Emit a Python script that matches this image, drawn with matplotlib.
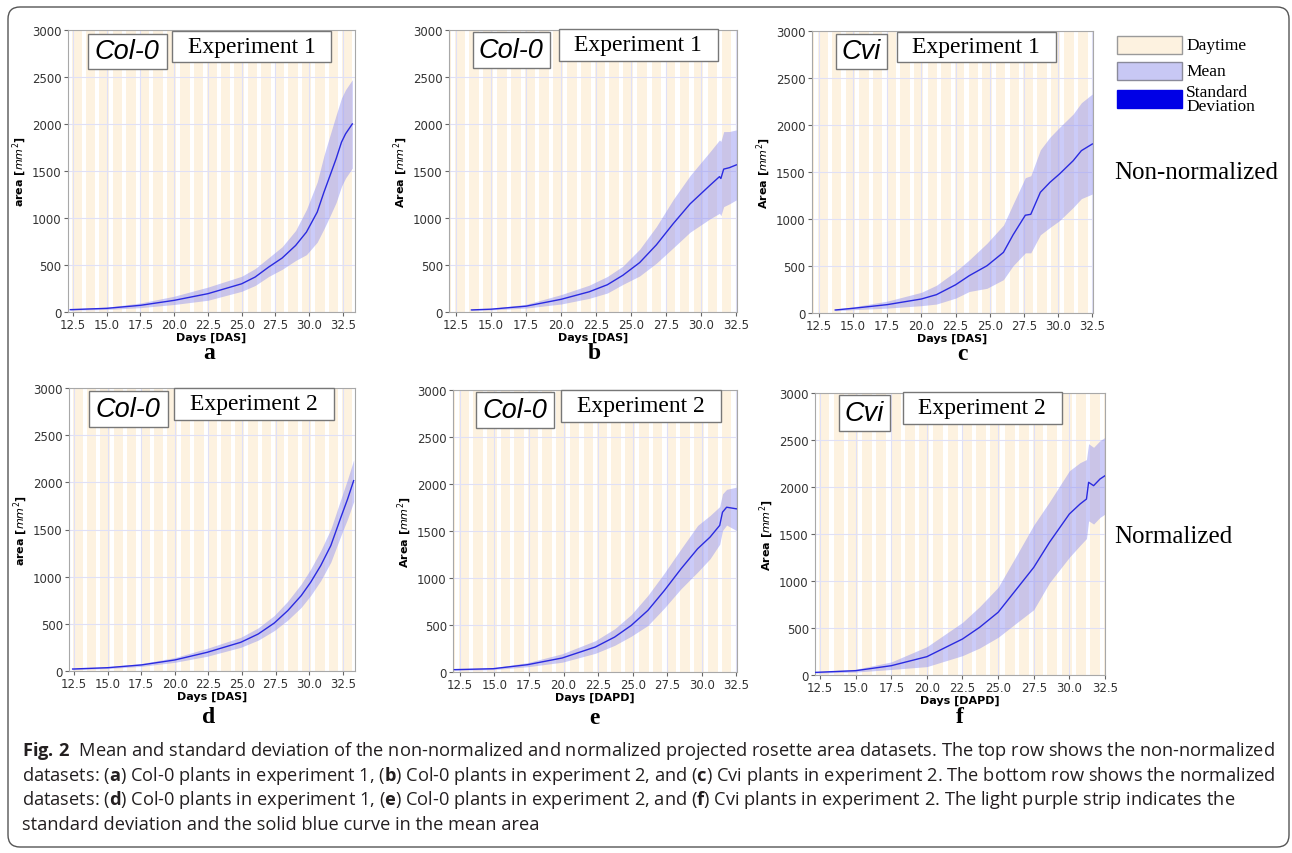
import numpy as np
import matplotlib.pyplot as plt
from matplotlib.patches import Rectangle, FancyBboxPatch
from matplotlib.transforms import IdentityTransform
from matplotlib.ticker import MultipleLocator, FormatStrFormatter

plt.rcParams['mathtext.fontset'] = 'dejavusans'
plt.rcParams['mathtext.rm'] = 'Open Sans'
plt.rcParams['mathtext.it'] = 'Open Sans:italic'
plt.rcParams['mathtext.bf'] = 'Open Sans:bold'

W, H = 1292, 854

# ---- data (days, mean area, std) ----
A_DAY = [12.3, 15.0, 17.5, 20.0, 22.5, 25.0, 26.0, 27.0, 28.0, 29.0, 29.8, 30.6, 31.1, 31.55, 32.0, 32.4, 32.7, 33.2]
A_MEAN = [25, 39, 71, 124, 195, 300, 372, 478, 574, 708, 850, 1063, 1275, 1452, 1630, 1807, 1895, 2001]
A_STD = [6, 12, 25, 44, 70, 80, 90, 100, 120, 160, 240, 320, 390, 430, 465, 470, 470, 470]

B_DAY = [13.6, 15.0, 17.5, 20.0, 22.0, 23.3, 24.4, 25.6, 26.8, 28.0, 29.2, 30.6, 31.3, 31.4, 31.6, 32.0, 32.5]
B_MEAN = [22, 30, 62, 135, 215, 290, 390, 525, 715, 940, 1150, 1345, 1440, 1420, 1520, 1535, 1565]
B_STD = [4, 8, 20, 50, 70, 88, 97, 142, 195, 257, 301, 356, 390, 395, 399, 385, 372]

C_DAY = [13.7, 15.0, 17.5, 20.0, 21.1, 22.5, 23.5, 24.8, 26.0, 26.7, 27.6, 28.0, 28.7, 29.4, 30.1, 31.1, 31.7, 32.5]
C_MEAN = [32, 50, 89, 149, 195, 300, 397, 503, 645, 830, 1040, 1050, 1284, 1390, 1479, 1620, 1727, 1798]
C_STD = [8, 15, 37, 71, 100, 142, 168, 240, 290, 328, 400, 410, 452, 480, 496, 497, 510, 532]

D_DAY = [12.4, 15.0, 17.5, 20.0, 22.4, 24.9, 26.2, 27.4, 28.4, 29.4, 30.1, 30.85, 31.6, 32.35, 32.85, 33.3]
D_MEAN = [21, 35, 64, 117, 198, 304, 392, 509, 640, 799, 940, 1117, 1329, 1629, 1823, 2018]
D_STD = [6, 10, 15, 25, 42, 53, 65, 80, 100, 124, 140, 159, 175, 194, 210, 221]

E_DAY = [12.1, 14.9, 17.4, 19.9, 22.3, 23.7, 24.9, 26.1, 27.3, 28.5, 29.7, 30.6, 31.3, 31.5, 31.8, 32.5]
E_MEAN = [25, 35, 78, 149, 266, 372, 496, 655, 868, 1098, 1311, 1435, 1560, 1700, 1753, 1736]
E_STD = [6, 10, 22, 45, 67, 88, 115, 160, 186, 212, 248, 230, 200, 195, 190, 230]

F_DAY = [12.2, 15.0, 17.5, 20.0, 22.5, 23.7, 25.0, 26.3, 27.5, 28.6, 30.0, 30.75, 31.2, 31.35, 31.7, 32.15, 32.5]
F_MEAN = [28, 46, 99, 195, 383, 507, 667, 915, 1145, 1411, 1713, 1819, 1872, 2050, 2014, 2085, 2120]
F_STD = [8, 15, 40, 106, 177, 220, 266, 360, 450, 430, 460, 440, 420, 410, 408, 408, 408]

NIGHT = (0.15, 0.45)   # dark period within each day

YLABELS = ['area', 'Area', 'Area', 'area', 'Area', 'Area']
XLABELS = ['Days [DAS]', 'Days [DAS]', 'Days [DAS]', 'Days [DAS]', 'Days [DAPD]', 'Days [DAPD]']
GENOTYPES = ['Col-0', 'Col-0', 'Cvi', 'Col-0', 'Col-0', 'Cvi']
EXPERIMENTS = ['Experiment 1', 'Experiment 1', 'Experiment 1', 'Experiment 2', 'Experiment 2', 'Experiment 2']
LETTERS = ['a', 'b', 'c', 'd', 'e', 'f']

DAY_COLOR = '#fdf2e0'
BAND_COLOR = '#8c8cf0'
LINE_COLOR = '#2a2ae0'


def fx(x):
    return x / W


def fy(y):
    return 1 - y / H


fig = plt.figure(figsize=(W / 100, H / 100), dpi=100)

# axes boxes in pixels: left, top, right, bottom
boxes = [(68, 31, 355, 313), (449, 31, 737, 313), (812, 32, 1093, 314),
         (69, 389, 355, 672), (453, 391, 737, 673), (815, 394, 1105, 676)]
xlims = [(12.13, 33.4), (12.0, 32.55), (12.0, 32.55),
         (12.13, 33.4), (12.0, 32.55), (12.15, 32.5)]
series = [(A_DAY, A_MEAN, A_STD), (B_DAY, B_MEAN, B_STD), (C_DAY, C_MEAN, C_STD),
          (D_DAY, D_MEAN, D_STD), (E_DAY, E_MEAN, E_STD), (F_DAY, F_MEAN, F_STD)]
# label boxes: (cx, cy, w, h) for genotype, then experiment
gboxes = [(127, 52, 79, 35), (511, 51, 77, 36), (861, 52, 51, 35),
          (128, 410, 79, 36), (515, 411, 78, 36), (864, 414, 51, 35)]
eboxes = [(252, 47, 159, 31), (638, 46, 159, 32), (976, 48, 159, 30),
          (254, 405, 160, 31), (641, 407, 160, 31), (982, 409, 159, 32)]
letter_pos = [(209, 359), (594, 359), (962, 360), (209, 723), (594, 724), (960, 723)]

for i in range(6):
    l, t, r, b = boxes[i]
    ax = fig.add_axes([fx(l), fy(b), (r - l) / W, (b - t) / H])
    day, mean, std = [np.array(v, dtype=float) for v in series[i]]

    for d in range(11, 34):
        ax.axvspan(d + NIGHT[1], d + 1 + NIGHT[0], color=DAY_COLOR, lw=0, zorder=0.2)
    ax.fill_between(day, mean - std, mean + std, color=BAND_COLOR, alpha=0.45, lw=0, zorder=2)
    ax.plot(day, mean, color=LINE_COLOR, lw=1.0, zorder=3)

    ax.set_xlim(*xlims[i])
    ax.set_ylim(0, 3000)
    ax.xaxis.set_major_locator(MultipleLocator(2.5))
    ax.xaxis.set_major_formatter(FormatStrFormatter('%.1f'))
    ax.yaxis.set_major_locator(MultipleLocator(500))
    ax.set_axisbelow(True)
    ax.grid(True, color='#e0e0f6', lw=0.8)
    for s in ax.spines.values():
        s.set_color('#a8a8a8')
        s.set_linewidth(0.8)
    ax.tick_params(length=3, width=0.8, color='#666666', labelsize=8.5,
                   labelcolor='#333333', pad=1.5)
    ax.set_ylabel(YLABELS[i] + r' [$mm^2$]', fontsize=8, fontweight='bold', labelpad=2)
    ax.set_xlabel(XLABELS[i], fontsize=8, fontweight='bold', labelpad=0)

    cx, cy, w, h = gboxes[i]
    fig.patches.append(Rectangle((fx(cx - w / 2), fy(cy + h / 2)), w / W, h / H,
                                 transform=fig.transFigure, fc='white', ec='#777777', lw=1, zorder=5))
    fig.text(fx(cx), fy(cy), GENOTYPES[i], family='Liberation Sans', style='italic',
             fontsize=19.5, ha='center', va='center', zorder=6)
    cx, cy, w, h = eboxes[i]
    fig.patches.append(Rectangle((fx(cx - w / 2), fy(cy + h / 2)), w / W, h / H,
                                 transform=fig.transFigure, fc='white', ec='#777777', lw=1, zorder=5))
    fig.text(fx(cx), fy(cy), EXPERIMENTS[i], family='Liberation Serif',
             fontsize=17, ha='center', va='center', zorder=6)

    lx, ly = letter_pos[i]
    fig.text(fx(lx), fy(ly), LETTERS[i], family='Liberation Serif', weight='bold',
             fontsize=17, ha='center', va='baseline')

# legend (drawn by hand like the original)
leg = [('Daytime', DAY_COLOR, '#9a9a9a', 46), ('Mean', '#c8c8f4', '#8a8a9a', 72),
       ('Standard\nDeviation', '#0000e6', '#0000e6', 100)]
for txt, fc, ec, yc in leg:
    fig.patches.append(Rectangle((fx(1117), fy(yc + 9)), 65 / W, 18 / H,
                                 transform=fig.transFigure, fc=fc, ec=ec, lw=1))
    fig.text(fx(1186), fy(yc), txt, family='Liberation Serif', fontsize=12.5,
             ha='left', va='center', linespacing=0.8)

fig.text(fx(1114), fy(173), 'Non-normalized', family='Liberation Serif', fontsize=18,
         ha='left', va='center')
fig.text(fx(1114), fy(537), 'Normalized', family='Liberation Serif', fontsize=18,
         ha='left', va='center')

# caption
CAPTION = [
    r"$\mathbf{Fig.\,2}$  Mean and standard deviation of the non-normalized and normalized projected rosette area datasets. The top row shows the non-normalized",
    r"datasets: ($\mathbf{a}$) Col-0 plants in experiment 1, ($\mathbf{b}$) Col-0 plants in experiment 2, and ($\mathbf{c}$) Cvi plants in experiment 2. The bottom row shows the normalized",
    r"datasets: ($\mathbf{d}$) Col-0 plants in experiment 1, ($\mathbf{e}$) Col-0 plants in experiment 2, and ($\mathbf{f}$) Cvi plants in experiment 2. The light purple strip indicates the",
    "standard deviation and the solid blue curve in the mean area",
]
cap_y = [751, 776, 800, 825]
renderer = fig.canvas.get_renderer()
probe = fig.text(0, 0, CAPTION[0], family='Open Sans', fontsize=12, math_fontfamily='custom')
size = 12 * 1253 / probe.get_window_extent(renderer).width
probe.remove()
for txt, y in zip(CAPTION, cap_y):
    fig.text(fx(22), fy(y), txt, family='Open Sans', fontsize=size, color='#231f20',
             ha='left', va='center', math_fontfamily='custom')

border = FancyBboxPatch((8, H - 848), 1281, 840, boxstyle='round,pad=0,rounding_size=12',
                        transform=IdentityTransform(), fc='none', ec='#555555', lw=1)
fig.patches.append(border)

fig.savefig('out.png', dpi=100)
